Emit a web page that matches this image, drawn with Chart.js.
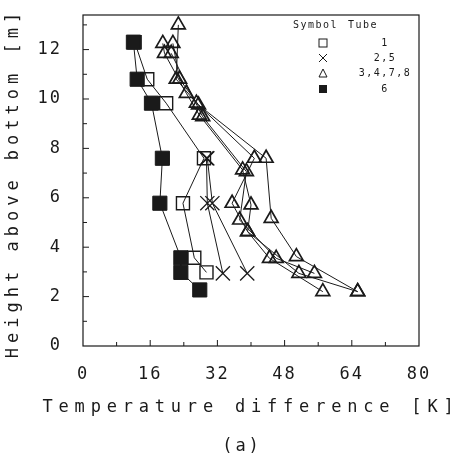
<!DOCTYPE html>
<html lang="en">
<head>
  <meta charset="UTF-8" />
  <title>Temperature difference vs height</title>
  <script src="https://cdn.jsdelivr.net/npm/chart.js"></script>
  <style>
    html, body { margin: 0; padding: 0; background: #fff; }
    #wrap { position: relative; width: 461px; height: 465px; }
  </style>
</head>
<body>
  <div id="wrap"><canvas id="chart"></canvas></div>

  <script>
    // Temperature difference [K] and height above bottom [m]
    const tube1T = [12.3, 15.3, 19.8, 28.8, 23.8, 26.5, 29.4];
    const tube1H = [12.3, 10.8, 9.83, 7.6, 5.78, 3.57, 2.98];

    const tube2T = [29.4, 29.6, 33.3];
    const tube2H = [7.6, 5.78, 2.94];
    const tube5T = [29.6, 30.8, 39.1];
    const tube5H = [7.6, 5.78, 2.94];

    const tube3T = [22.7, 22.2, 27.0, 40.8, 35.5, 39.2, 44.4, 57.1];
    const tube3H = [13.0, 10.8, 9.83, 7.6, 5.78, 4.63, 3.55, 2.2];
    const tube4T = [21.4, 23.0, 27.5, 43.6, 44.8, 50.8, 65.4];
    const tube4H = [12.25, 10.8, 9.76, 7.6, 5.17, 3.62, 2.2];
    const tube7T = [19.0, 19.4, 24.6, 27.7, 38.0, 40.0, 39.2, 51.4, 65.4];
    const tube7H = [12.25, 11.85, 10.23, 9.35, 7.13, 5.71, 4.63, 2.94, 2.2];
    const tube8T = [21.0, 28.5, 38.9, 37.3, 46.0, 55.1];
    const tube8H = [11.85, 9.28, 7.06, 5.1, 3.55, 2.94];

    const tube6T = [12.0, 12.9, 16.3, 18.9, 18.3, 23.3, 23.3, 27.8];
    const tube6H = [12.3, 10.8, 9.83, 7.6, 5.78, 3.57, 2.98, 2.27];

    const legendSymbols = ["square", "cross", "triangle", "filled"];
    const legendTubes = ["1", "2,5", "3,4,7,8", "6"];

    const FONT = "'DejaVu Sans Mono', 'Liberation Mono', monospace";
    const INK = "#1a1a1a";

    function pts(xs, ys) {
      return xs.map((x, i) => ({ x: x, y: ys[i] }));
    }

    function series(xs, ys, style, radius, fill, pw) {
      return {
        data: pts(xs, ys),
        showLine: true,
        borderColor: INK,
        borderWidth: 1,
        pointStyle: style,
        pointRadius: radius,
        pointHoverRadius: radius,
        pointBorderColor: INK,
        pointBackgroundColor: fill,
        pointBorderWidth: pw,
        tension: 0
      };
    }

    // inward ticks, frame, legend and spaced-out titles
    const decor = {
      id: "decor",
      beforeDraw(chart) {
        chart.ctx.letterSpacing = "2px";
      },
      afterDraw(chart) {
        const ctx = chart.ctx;
        const a = chart.chartArea;
        const xs = chart.scales.x, ys = chart.scales.y;
        ctx.save();
        ctx.letterSpacing = "0px";
        ctx.strokeStyle = INK;
        ctx.lineWidth = 1.2;
        ctx.strokeRect(a.left, a.top, a.right - a.left, a.bottom - a.top);

        ctx.lineWidth = 1;
        ctx.beginPath();
        for (let v = 8; v < 80; v += 8) {
          const px = xs.getPixelForValue(v);
          const len = v % 16 === 0 ? 6 : 4;
          ctx.moveTo(px, a.bottom);
          ctx.lineTo(px, a.bottom - len);
        }
        for (let v = 1; v <= 13; v++) {
          const py = ys.getPixelForValue(v);
          const len = v % 2 === 0 ? 6 : 4;
          ctx.moveTo(a.left, py);
          ctx.lineTo(a.left + len, py);
        }
        ctx.stroke();

        // legend
        ctx.fillStyle = INK;
        ctx.font = "10px " + FONT;
        ctx.letterSpacing = "1.5px";
        ctx.textBaseline = "middle";
        ctx.textAlign = "left";
        ctx.fillText("Symbol", 293, 25);
        ctx.fillText("Tube", 348, 25);
        ctx.textAlign = "center";
        const rowY = [43, 58, 73, 89];
        legendSymbols.forEach((s, i) => {
          const cx = 323, cy = rowY[i], r = 4;
          ctx.lineWidth = 1;
          ctx.beginPath();
          if (s === "square") {
            ctx.strokeRect(cx - r, cy - r, 2 * r, 2 * r);
          } else if (s === "filled") {
            ctx.fillRect(cx - r, cy - r, 2 * r, 2 * r);
          } else if (s === "cross") {
            ctx.moveTo(cx - r, cy - r); ctx.lineTo(cx + r, cy + r);
            ctx.moveTo(cx + r, cy - r); ctx.lineTo(cx - r, cy + r);
            ctx.stroke();
          } else {
            ctx.moveTo(cx, cy - r); ctx.lineTo(cx + r, cy + r);
            ctx.lineTo(cx - r, cy + r); ctx.closePath();
            ctx.stroke();
          }
          ctx.fillText(legendTubes[i], 385, cy);
        });

        // axis titles and caption
        ctx.font = "17px " + FONT;
        ctx.textAlign = "center";
        ctx.letterSpacing = "5.8px";
        ctx.fillText("Temperature difference [K]", 251, 408);
        ctx.letterSpacing = "3px";
        ctx.fillText("(a)", 242, 447);
        ctx.save();
        ctx.translate(14, 183);
        ctx.rotate(-Math.PI / 2);
        ctx.letterSpacing = "5px";
        ctx.fillText("Height above bottom [m]", 0, 0);
        ctx.restore();
        ctx.restore();
      }
    };

    new Chart(document.getElementById("chart"), {
      type: "scatter",
      data: {
        datasets: [
          series(tube1T, tube1H, "rect", 9.2, "rgba(0,0,0,0)", 1.4),
          series(tube2T, tube2H, "crossRot", 10, "rgba(0,0,0,0)", 1.3),
          series(tube5T, tube5H, "crossRot", 10, "rgba(0,0,0,0)", 1.3),
          series(tube3T, tube3H, "triangle", 8, "rgba(0,0,0,0)", 1.7),
          series(tube4T, tube4H, "triangle", 8, "rgba(0,0,0,0)", 1.7),
          series(tube7T, tube7H, "triangle", 8, "rgba(0,0,0,0)", 1.7),
          series(tube8T, tube8H, "triangle", 8, "rgba(0,0,0,0)", 1.7),
          series(tube6T, tube6H, "rect", 10, INK, 1)
        ]
      },
      options: {
        responsive: true,
        maintainAspectRatio: false,
        animation: false,
        layout: { padding: { top: 15, right: 42, left: 0, bottom: 0 } },
        plugins: { legend: { display: false }, tooltip: { enabled: false } },
        scales: {
          x: {
            type: "linear",
            min: 0, max: 80,
            afterFit: s => { s.height = 119; s.paddingLeft = 0; s.paddingRight = 0; },
            grid: { display: false },
            border: { display: false },
            ticks: {
              stepSize: 8,
              autoSkip: false,
              maxRotation: 0,
              padding: 10,
              color: INK,
              font: { family: FONT, size: 17 },
              callback: v => (v % 16 === 0 ? v : "")
            }
          },
          y: {
            type: "linear",
            min: 0, max: 13.4,
            afterFit: s => { s.width = 83; s.paddingTop = 0; s.paddingBottom = 0; },
            grid: { display: false },
            border: { display: false },
            ticks: {
              stepSize: 1,
              autoSkip: false,
              padding: 13,
              color: INK,
              font: { family: FONT, size: 17 },
              callback: v => (Number.isInteger(v) && v % 2 === 0 ? v : "")
            }
          }
        }
      },
      plugins: [decor]
    });
  </script>
</body>
</html>
